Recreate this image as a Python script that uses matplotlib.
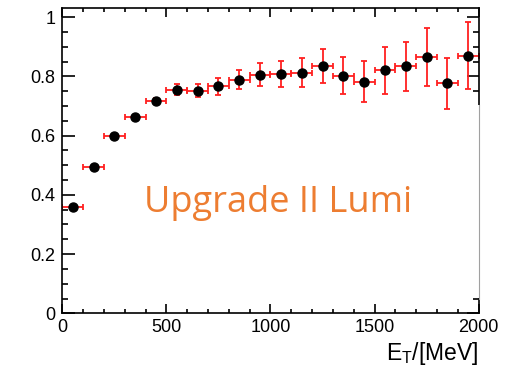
import numpy as np
import matplotlib.pyplot as plt
from matplotlib.ticker import MultipleLocator, FuncFormatter
from matplotlib.patches import Rectangle

plt.rcParams['font.family'] = ['Liberation Sans', 'DejaVu Sans']
plt.rcParams['mathtext.fontset'] = 'custom'
plt.rcParams['mathtext.rm'] = 'Liberation Sans'

# bin centres (MeV), efficiency and its error
et = [50, 150, 250, 350, 450, 550, 650, 750, 850, 950,
      1050, 1150, 1250, 1350, 1450, 1550, 1650, 1750, 1850, 1950]
eff = [0.358, 0.495, 0.600, 0.664, 0.718, 0.755, 0.752, 0.766, 0.789, 0.806,
       0.808, 0.813, 0.835, 0.802, 0.782, 0.820, 0.834, 0.866, 0.777, 0.870]
eff_err = [0.004, 0.005, 0.006, 0.007, 0.010, 0.019, 0.022, 0.028, 0.033, 0.038,
           0.044, 0.048, 0.056, 0.062, 0.070, 0.079, 0.082, 0.097, 0.086, 0.112]
bin_half = 50

fig = plt.figure(figsize=(5.16, 3.68), dpi=100)
ax = fig.add_axes([0.1207, 0.1486, 0.807, 0.8289])

ax.errorbar(et, eff, xerr=bin_half, yerr=eff_err, fmt='o', color='black',
            markersize=6.5, ecolor='#ff2020', elinewidth=1.3, capsize=2.2,
            capthick=1.3)

ax.set_xlim(0, 2000)
ax.set_ylim(0, 1.03)
ax.xaxis.set_major_locator(MultipleLocator(500))
ax.xaxis.set_minor_locator(MultipleLocator(100))
ax.yaxis.set_major_locator(MultipleLocator(0.2))
ax.yaxis.set_minor_locator(MultipleLocator(0.05))
fmt = FuncFormatter(lambda v, p: '%g' % round(v, 3))
ax.xaxis.set_major_formatter(fmt)
ax.yaxis.set_major_formatter(fmt)

ax.tick_params(which='both', direction='in', top=True, right=True,
               labelsize=13, width=1.2)
ax.tick_params(axis='x', which='major', length=6.5, pad=4)
ax.tick_params(axis='x', which='minor', length=3.2)
ax.tick_params(axis='y', which='major', length=9, pad=5)
ax.tick_params(axis='y', which='minor', length=4.3)
for s in ax.spines.values():
    s.set_linewidth(1.2)

# white patch over part of the right edge, like the pasted original
ax.add_patch(Rectangle((1930, 0.053), 90, 0.652, facecolor='white',
                       edgecolor='none', zorder=3, clip_on=False))
ax.plot([2000, 2000], [0.05, 0.705], color='#a0a0a0', lw=0.8, zorder=4,
        clip_on=False)

ax.set_xlabel(r'E$_\mathrm{T}$/[MeV]', fontsize=16.5, loc='right', labelpad=3)

ax.text(1036, 0.342, 'Upgrade II Lumi', color='#ed7d31', fontsize=26,
        family='Open Sans', ha='center', va='baseline')

fig.savefig('out.png', dpi=100)
